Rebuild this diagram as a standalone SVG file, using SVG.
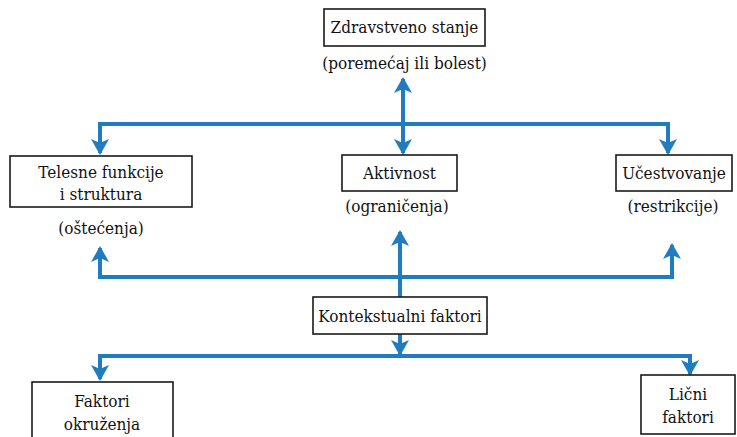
<svg xmlns="http://www.w3.org/2000/svg" width="737" height="437" viewBox="0 0 737 437">
<style>
.box{fill:#fff;stroke:#1a1a1a;stroke-width:1.6}
.t{font-family:"DejaVu Serif",serif;font-stretch:condensed;font-size:17px;fill:#111;text-anchor:middle}
.c{fill:none;stroke:#1f7cc0;stroke-width:4;stroke-linejoin:miter}
</style>
<defs>
<marker id="ah" viewBox="0 0 16 18" refX="14" refY="9" markerWidth="16" markerHeight="18" markerUnits="userSpaceOnUse" orient="auto-start-reverse">
<path d="M0,0 L16,9 L0,18 L4,9 z" fill="#1f7cc0"/>
</marker>
</defs>
<rect width="737" height="437" fill="#fff"/>
<g id="connectors">
<path class="c" d="M403,153 L403,79" marker-start="url(#ah)" marker-end="url(#ah)"/>
<path class="c" d="M100,153 L100,124 L668,124 L668,153" marker-start="url(#ah)" marker-end="url(#ah)"/>
<path class="c" d="M100,248 L100,277 L672,277 L672,245" marker-start="url(#ah)" marker-end="url(#ah)"/>
<path class="c" d="M400,297 L400,232" marker-end="url(#ah)"/>
<path class="c" d="M400,334 L400,354" marker-end="url(#ah)"/>
<path class="c" d="M100,379 L100,356 L690,356 L690,374" marker-start="url(#ah)" marker-end="url(#ah)"/>
</g>
<g id="zdravstveno">
<rect class="box" x="324" y="9" width="161" height="37"/>
<text class="t" x="404.5" y="33">Zdravstveno stanje</text>
<text class="t" x="404.5" y="69">(poremećaj ili bolest)</text>
</g>
<g id="telesne">
<rect class="box" x="10" y="156" width="182" height="51"/>
<text class="t" x="101" y="178">Telesne funkcije</text>
<text class="t" x="101" y="200">i struktura</text>
<text class="t" x="101" y="234">(oštećenja)</text>
</g>
<g id="aktivnost">
<rect class="box" x="342" y="155" width="115" height="36"/>
<text class="t" x="399.5" y="179">Aktivnost</text>
<text class="t" x="397" y="212">(ograničenja)</text>
</g>
<g id="ucestvovanje">
<rect class="box" x="616" y="155" width="116" height="36"/>
<text class="t" x="674" y="179">Učestvovanje</text>
<text class="t" x="673" y="212">(restrikcije)</text>
</g>
<g id="kontekstualni">
<rect class="box" x="313" y="297" width="174" height="37"/>
<text class="t" x="400" y="322">Kontekstualni faktori</text>
</g>
<g id="okruzenja">
<rect class="box" x="32" y="382" width="141" height="70"/>
<text class="t" x="102" y="407">Faktori</text>
<text class="t" x="102" y="430">okruženja</text>
</g>
<g id="licni">
<rect class="box" x="641" y="375" width="94" height="59"/>
<text class="t" x="688" y="400">Lični</text>
<text class="t" x="688" y="423">faktori</text>
</g>
</svg>
